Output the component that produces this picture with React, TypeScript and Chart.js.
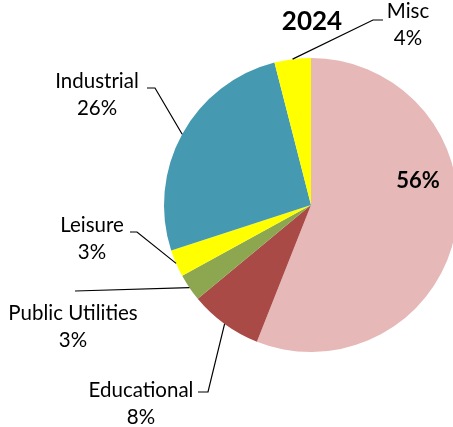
import React, { useEffect, useRef } from "react";
import { Chart, registerables } from "chart.js";

Chart.register(...registerables);

const categories = ["", "Educational", "Public Utilities", "Leisure", "Industrial", "Misc"];
const values = [56, 8, 3, 3, 26, 4];
const colors = ["#E6B8B7", "#A94A46", "#8CA750", "#FFFF00", "#4599B1", "#FFFF00"];
const title = "2024";

// label layout: text centre x, first baseline y, elbow points (outer end then inner end)
const labelX = [418, 141, 73, 92, 97, 408];
const labelY = [188, 397, 320, 232, 88, 18];
const elbowOuter: (number[] | null)[] = [null, [198, 392], [75, 291], [130, 232], [147, 88], [383, 20]];
const elbowInner: (number[] | null)[] = [null, [208, 392], [75, 291], [137, 232], [155, 88], [373, 20]];

const FONT = "Lato, 'Open Sans', sans-serif";

const labelPlugin = {
  id: "pieLabels",
  afterDatasetsDraw(chart: any) {
    const ctx = chart.ctx;
    const meta = chart.getDatasetMeta(0);
    const total = values.reduce((a, b) => a + b, 0);
    ctx.save();
    ctx.fillStyle = "#000";
    ctx.textAlign = "center";
    ctx.textBaseline = "alphabetic";
    ctx.font = `bold 26px ${FONT}`;
    ctx.fillText(title, 312, 30);
    meta.data.forEach((arc: any, i: number) => {
      const p = arc.getProps(["x", "y", "startAngle", "endAngle", "outerRadius"], true);
      const mid = (p.startAngle + p.endAngle) / 2;
      const ax = p.x + Math.cos(mid) * p.outerRadius;
      const ay = p.y + Math.sin(mid) * p.outerRadius;
      const pct = Math.round((values[i] / total) * 100) + "%";
      if (i === 0) {
        ctx.font = `bold 22px ${FONT}`;
        ctx.fillText(pct, labelX[i], labelY[i]);
        return;
      }
      const eo = elbowOuter[i]!;
      const ei = elbowInner[i]!;
      ctx.strokeStyle = "#000";
      ctx.lineWidth = 1.2;
      ctx.beginPath();
      ctx.moveTo(eo[0], eo[1]);
      ctx.lineTo(ei[0], ei[1]);
      ctx.lineTo(ax, ay);
      ctx.stroke();
      ctx.font = `20.5px ${FONT}`;
      ctx.fillText(categories[i], labelX[i], labelY[i]);
      ctx.fillText(pct, labelX[i], labelY[i] + 27);
    });
    ctx.restore();
  },
};

export default function App() {
  const ref = useRef<HTMLCanvasElement>(null);
  useEffect(() => {
    if (!ref.current) return;
    const chart = new Chart(ref.current, {
      type: "pie",
      data: {
        labels: categories,
        datasets: [
          {
            data: values,
            backgroundColor: colors,
            borderWidth: 0,
          },
        ],
      },
      options: {
        animation: false,
        responsive: false,
        layout: { padding: { left: 164, right: 12, top: 58, bottom: 75 } },
        plugins: { legend: { display: false }, tooltip: { enabled: false } },
      },
      plugins: [labelPlugin],
    });
    return () => chart.destroy();
  }, []);
  return (
    <div style={{ position: "absolute", left: 0, top: 0, width: 453, height: 427, overflow: "hidden", background: "#fff" }}>
      <canvas ref={ref} width={470} height={427} style={{ width: 470, height: 427, display: "block" }} />
    </div>
  );
}
